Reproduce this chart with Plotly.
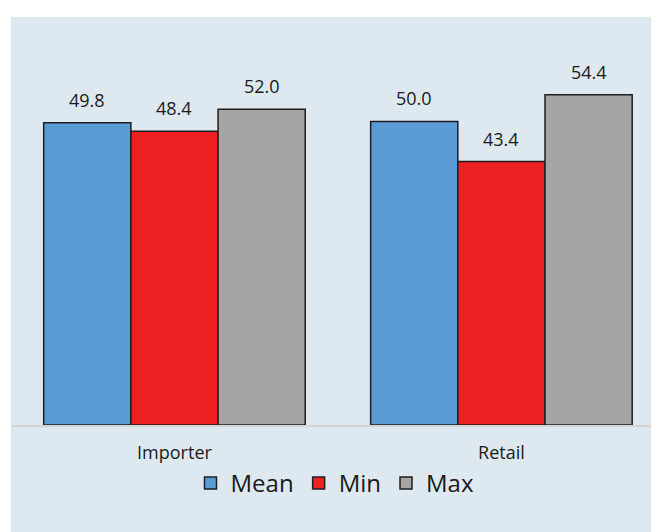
import plotly.graph_objects as go

categories = ["Importer", "Retail"]
series_names = ["Mean", "Min", "Max"]
mean_vals = [49.8, 50.0]
min_vals = [48.4, 43.4]
max_vals = [52.0, 54.4]
colors = ["#5b9bd5", "#ed2024", "#a5a5a5"]

series_vals = [mean_vals, min_vals, max_vals]
BG = "#dde8f1"
FONT = "Open Sans"
BARGAP = 0.2

fig = go.Figure()
for name, vals, col in zip(series_names, series_vals, colors):
    fig.add_trace(go.Bar(
        x=categories, y=vals, name=name,
        marker=dict(color=col, line=dict(color="#1e1e1e", width=1.5)),
    ))

n = len(series_vals)
bw = (1 - BARGAP) / n
annotations = []
for i, vals in enumerate(series_vals):
    for j, v in enumerate(vals):
        annotations.append(dict(
            x=j + (i - (n - 1) / 2) * bw, y=v, xref="x", yref="y",
            text=f"{v:.1f}", showarrow=False, yanchor="bottom", yshift=9,
            font=dict(family=FONT, size=18, color="#1a1a1a"),
        ))

fig.update_layout(
    width=651, height=524,
    margin=dict(l=3, r=0, t=9, b=107),
    paper_bgcolor="white",
    plot_bgcolor="rgba(0,0,0,0)",
    barmode="group", bargap=BARGAP, bargroupgap=0,
    font=dict(family=FONT, color="#1a1a1a"),
    shapes=[dict(type="rect", xref="paper", yref="paper", x0=0, x1=1,
                 y0=-107 / 408, y1=1, fillcolor=BG, line=dict(width=0),
                 layer="below")],
    annotations=annotations,
    legend=dict(orientation="h", x=0.5, xanchor="center", y=-0.143,
                yanchor="middle", font=dict(family=FONT, size=24, color="#1a1a1a"),
                bgcolor="rgba(0,0,0,0)", itemclick=False),
    showlegend=True,
)
fig.update_xaxes(type="category", range=[-0.5, 1.482], showline=True,
                 linecolor="#d4d4d4", linewidth=2, showgrid=False,
                 ticks="outside", ticklen=10, tickcolor="rgba(0,0,0,0)",
                 tickfont=dict(family=FONT, size=18, color="#1a1a1a"))
fig.update_yaxes(range=[0, 67.2], visible=False, showgrid=False, zeroline=False)

fig.write_html("out.html")
